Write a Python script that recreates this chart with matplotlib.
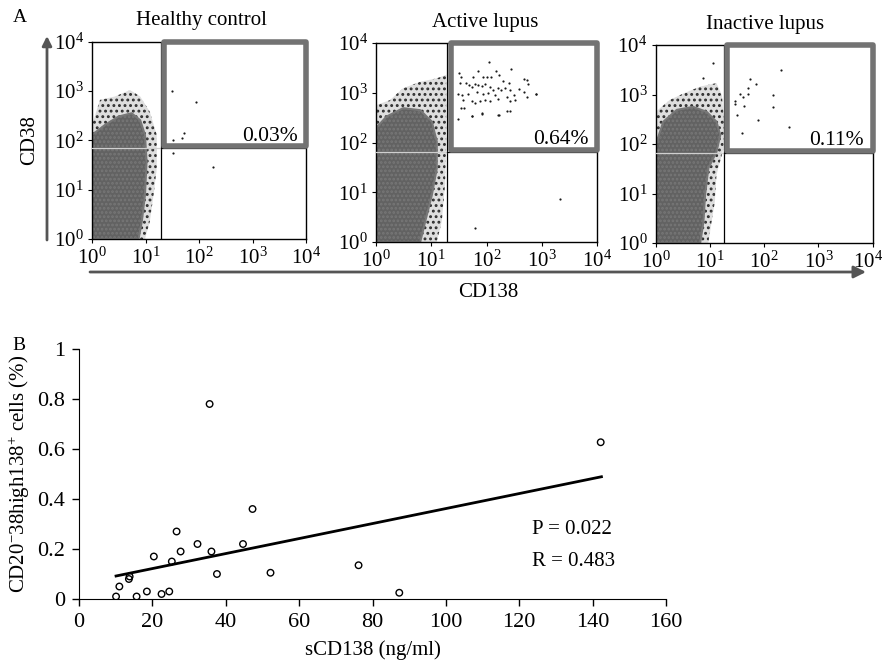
import numpy as np
import matplotlib.pyplot as plt
import matplotlib.transforms as mtransforms
from matplotlib.patches import Polygon, Rectangle

plt.rcParams['font.family'] = ['Liberation Serif', 'DejaVu Serif']
plt.rcParams['mathtext.fontset'] = 'custom'
plt.rcParams['mathtext.rm'] = 'Liberation Serif'
plt.rcParams['mathtext.it'] = 'Liberation Serif:italic'
plt.rcParams['mathtext.bf'] = 'Liberation Serif:bold'
plt.rcParams['hatch.linewidth'] = 1.3

# ========== PANEL A : flow plots (values in log10 decades) ========== #
titles = ["Healthy control", "Active lupus", "Inactive lupus"]
pct_labels = ["0.03%", "0.64%", "0.11%"]
gate_x = [1.29, 1.29, 1.26]
gate_y = [1.84, 1.80, 1.81]

# dense part of the cell cloud (outline)
healthy_core_x = [0, 0, 0.24, 0.49, 0.74, 0.90, 0.99, 1.02, 0.99, 0.93, 0.87]
healthy_core_y = [0, 2.11, 2.31, 2.48, 2.55, 2.41, 2.11, 1.57, 0.89, 0.35, 0]
active_core_x = [0, 0, 0.19, 0.49, 0.80, 1.01, 1.10, 1.10, 1.01, 0.89, 0.80]
active_core_y = [0, 2.29, 2.52, 2.69, 2.65, 2.42, 2.02, 1.48, 0.94, 0.41, 0]
inactive_core_x = [0, 0, 0.14, 0.39, 0.69, 0.94, 1.12, 1.19, 1.12, 0.97, 0.91, 0.88, 0.82]
inactive_core_y = [0, 1.98, 2.45, 2.69, 2.75, 2.65, 2.45, 2.18, 1.84, 1.51, 0.97, 0.43, 0]

# sparse halo around the cloud (outline)
healthy_halo_x = [0, 0, 0.15, 0.43, 0.71, 0.90, 1.08, 1.21, 1.21, 1.15, 1.08, 0.99]
healthy_halo_y = [0, 2.31, 2.82, 2.89, 3.02, 2.89, 2.58, 2.11, 1.43, 0.89, 0.35, 0]
active_halo_x = [0, 0, 0.25, 0.49, 0.80, 1.10, 1.27, 1.27, 1.25, 1.19, 1.10]
active_halo_y = [0, 2.75, 2.85, 3.09, 3.22, 3.29, 3.36, 1.95, 1.15, 0.41, 0]
inactive_halo_x = [0, 0, 0.26, 0.51, 0.82, 1.12, 1.22, 1.26, 1.25, 1.12, 1.09, 1.03, 0.97]
inactive_halo_y = [0, 2.65, 2.89, 3.02, 3.16, 3.23, 2.99, 2.45, 1.91, 1.37, 0.83, 0.43, 0]

# single events
healthy_dots_x = [1.50, 1.94, 1.72, 1.68, 1.51, 1.52, 2.27]
healthy_dots_y = [3.00, 2.78, 2.14, 2.05, 2.01, 1.74, 1.45]
active_dots_x = [2.05, 2.44, 1.85, 2.18, 1.50, 1.53, 1.76, 1.94, 2.00, 2.08, 2.23, 2.30,
                 2.68, 2.40, 2.76, 1.52, 1.63, 1.69, 1.73, 1.79, 1.85, 1.91, 1.97, 2.06,
                 2.12, 2.21, 2.27, 2.33, 2.43, 2.59, 2.67, 2.89, 1.49, 1.55, 1.67, 1.82,
                 1.94, 2.03, 2.15, 2.37, 2.49, 2.73, 1.58, 1.73, 1.79, 1.88, 1.97, 2.06,
                 2.21, 2.43, 2.52, 1.53, 1.59, 1.91, 1.73, 2.21, 2.37, 1.49, 1.74, 1.91,
                 2.23, 2.43, 2.90, 2.73, 1.79, 3.33]
active_dots_y = [3.62, 3.48, 3.44, 3.44, 3.39, 3.32, 3.32, 3.31, 3.32, 3.32, 3.35, 3.24,
                 3.27, 3.20, 3.18, 3.20, 3.19, 3.16, 3.12, 3.17, 3.16, 3.14, 3.17, 3.12,
                 3.06, 3.09, 3.06, 3.09, 3.06, 3.07, 3.01, 2.97, 2.98, 2.95, 2.98, 3.02,
                 2.98, 2.99, 2.95, 2.92, 2.95, 2.92, 2.85, 2.83, 2.80, 2.84, 2.85, 2.83,
                 2.87, 2.83, 2.85, 2.70, 2.69, 2.59, 2.53, 2.55, 2.63, 2.47, 2.53, 2.57,
                 2.55, 2.63, 2.97, 3.26, 0.28, 0.86]
inactive_dots_x = [2.31, 1.74, 1.84, 1.70, 1.55, 1.70, 1.61, 1.47, 1.46, 1.63, 2.17, 2.17,
                   1.49, 1.88, 2.46, 1.59, 1.05, 0.87]
inactive_dots_y = [3.49, 3.32, 3.21, 3.13, 3.02, 3.01, 2.94, 2.87, 2.80, 2.77, 3.00, 2.75,
                   2.59, 2.48, 2.34, 2.23, 3.63, 3.34]

core_x = [healthy_core_x, active_core_x, inactive_core_x]
core_y = [healthy_core_y, active_core_y, inactive_core_y]
halo_x = [healthy_halo_x, active_halo_x, inactive_halo_x]
halo_y = [healthy_halo_y, active_halo_y, inactive_halo_y]
dots_x = [healthy_dots_x, active_dots_x, inactive_dots_x]
dots_y = [healthy_dots_y, active_dots_y, inactive_dots_y]

# ========== PANEL B : scatter ========== #
scd138 = [10.1, 11.0, 13.6, 13.8, 15.7, 18.5, 20.4, 22.5, 24.6, 25.3, 26.6,
          27.7, 32.3, 35.6, 36.1, 37.6, 44.7, 47.3, 52.2, 76.2, 87.3, 142.2]
cells_pct = [0.01, 0.05, 0.08, 0.09, 0.01, 0.03, 0.17, 0.02, 0.03, 0.15, 0.27,
             0.19, 0.22, 0.78, 0.19, 0.10, 0.22, 0.36, 0.105, 0.135, 0.025, 0.627]
fit_x = [10.1, 142.4]
fit_y = [0.092, 0.489]
stats_text = ["P = 0.022", "R = 0.483"]

W, H = 885, 665
fig = plt.figure(figsize=(W / 100, H / 100), dpi=100)

# axes boxes in pixels: left, top, right, bottom
boxes = [(92, 41.7, 306, 239), (376, 43, 597, 242), (655.7, 45, 872.7, 243)]
title_pos = [(201.7, 20), (485, 22), (765, 25)]

for i in range(3):
    l, t, r, b = boxes[i]
    ax = fig.add_axes([l / W, 1 - b / H, (r - l) / W, (b - t) / H])
    ax.set_xscale('log')
    ax.set_yscale('log')
    ax.set_xlim(1, 1e4)
    ax.set_ylim(1, 1e4)

    hx = np.power(10.0, halo_x[i])
    hy = np.power(10.0, halo_y[i])
    ax.add_patch(Polygon(np.column_stack([hx, hy]), closed=True, facecolor='#dedede',
                         edgecolor='#2e2e2e', linewidth=0, hatch='...', zorder=1))
    cx = np.power(10.0, core_x[i])
    cy = np.power(10.0, core_y[i])
    ax.add_patch(Polygon(np.column_stack([cx, cy]), closed=True, facecolor='#626262',
                         edgecolor='#777777', linewidth=1.5, hatch='....',
                         joinstyle='round', zorder=2))

    gx = 10 ** gate_x[i]
    gy = 10 ** gate_y[i]
    ax.plot([gx, gx], [1, 1e4], color='black', lw=0.9, zorder=3)
    ax.plot([1, gx], [gy, gy], color='#cfcfcf', lw=0.9, zorder=3)
    ax.plot([gx, 1e4], [gy, gy], color='black', lw=0.9, zorder=3)
    gx2 = 10 ** (gate_x[i] + 0.06)
    gy2 = 10 ** (gate_y[i] + 0.05)
    ax.add_patch(Rectangle((gx2, gy2), 1e4 - gx2, 1e4 - gy2, facecolor='none',
                           edgecolor='#737373', linewidth=4, joinstyle='round',
                           clip_on=False, zorder=4))

    ax.scatter(np.power(10.0, dots_x[i]), np.power(10.0, dots_y[i]), s=2.5,
               color='#1a1a1a', linewidths=0, zorder=5)

    ax.text(10 ** 3.84, 10 ** 2.07, pct_labels[i], ha='right', va='center',
            fontsize=15.5, zorder=6)

    ax.set_xticks([1, 10, 100, 1000, 10000])
    ax.set_yticks([1, 10, 100, 1000, 10000])
    ax.minorticks_off()
    ax.tick_params(direction='out', length=3, width=0.8, labelsize=15, pad=3)
    for s in ax.spines.values():
        s.set_linewidth(1.0)

    if i == 2:
        fig.canvas.draw()
        last = ax.get_xticklabels()[-1]
        last.set_transform(last.get_transform() +
                           mtransforms.ScaledTranslation(-5 / 100, 0, fig.dpi_scale_trans))

    fig.text(title_pos[i][0] / W, 1 - title_pos[i][1] / H, titles[i],
             ha='center', va='center', fontsize=15)

fig.text(20 / W, 1 - 17 / H, "A", ha='center', va='center', fontsize=14)
fig.text(30 / W, 1 - 140 / H, "CD38", ha='center', va='center', rotation=90, fontsize=15)
fig.text(488 / W, 1 - 293 / H, "CD138", ha='center', va='center', fontsize=15)

arrow_ax = fig.axes[0]
arrow_ax.annotate('', xy=(47 / W, 1 - 36 / H), xytext=(47 / W, 1 - 240 / H),
                  xycoords='figure fraction', textcoords='figure fraction',
                  annotation_clip=False,
                  arrowprops=dict(arrowstyle='-|>', color='#555555', lw=2,
                                  mutation_scale=14, shrinkA=0, shrinkB=0))
arrow_ax.annotate('', xy=(866 / W, 1 - 272 / H), xytext=(90 / W, 1 - 272 / H),
                  xycoords='figure fraction', textcoords='figure fraction',
                  annotation_clip=False,
                  arrowprops=dict(arrowstyle='-|>', color='#555555', lw=2,
                                  mutation_scale=18, shrinkA=0, shrinkB=0))

# ---- panel B ----
axb = fig.add_axes([79 / W, 1 - 599 / H, (666 - 79) / W, 250 / H])
axb.scatter(scd138, cells_pct, s=22, facecolors='none', edgecolors='black',
            linewidths=1.0, zorder=3)
axb.plot(fit_x, fit_y, color='black', lw=2.0, zorder=2)
axb.set_xlim(0, 160)
axb.set_ylim(0, 1)
axb.set_xticks([0, 20, 40, 60, 80, 100, 120, 140, 160])
axb.set_yticks([0, 0.2, 0.4, 0.6, 0.8, 1])
axb.set_yticklabels(["0", "0.2", "0.4", "0.6", "0.8", "1"])
axb.spines['top'].set_visible(False)
axb.spines['right'].set_visible(False)
axb.tick_params(direction='out', length=5, width=1.0, labelsize=16, pad=5)
axb.set_xlabel("sCD138 (ng/ml)", fontsize=15, labelpad=6)
axb.text(123.4, 0.276, stats_text[0], ha='left', va='center', fontsize=15)
axb.text(123.4, 0.152, stats_text[1], ha='left', va='center', fontsize=15)

fig.text(19 / W, 1 - 345 / H, "B", ha='center', va='center', fontsize=14)
fig.text(19 / W, 1 - 474 / H, r"CD20$^{-}$38high138$^{+}$ cells (%)", ha='center',
         va='center', rotation=90, fontsize=15)

fig.savefig("out.png", dpi=100)
